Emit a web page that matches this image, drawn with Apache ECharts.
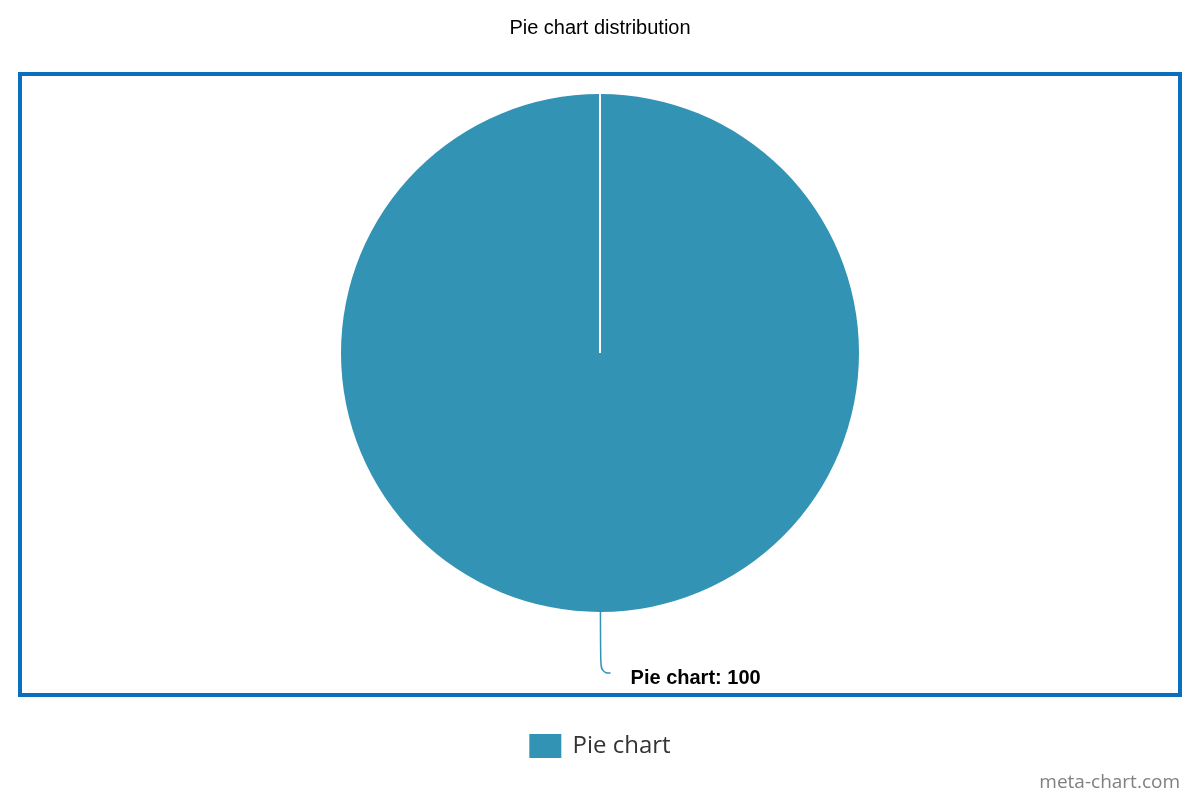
<!DOCTYPE html>
<html>
<head>
	<meta charset="utf-8">
	<title>Pie chart distribution</title>
	<script src="https://cdn.jsdelivr.net/npm/echarts@6/dist/echarts.min.js"></script>
	<style>
		body { margin: 0; background: #fff; }
	</style>
</head>
<body>
	<div id="container" style="width: 1200px;height:800px;"></div>
	<script type="text/javascript">
		var names = ['Pie chart'];
		var values = [100];
		var colors = ['#3393b4'];

		var data = [];
		for (var i = 0; i < names.length; i++) {
			data.push({ name: names[i], value: values[i], itemStyle: { color: colors[i] } });
		}

		var myChart = echarts.init(document.getElementById('container'));
		myChart.setOption({
			animation: false,
			title: {
				text: 'Pie chart distribution',
				left: 'center',
				top: 13,
				textStyle: { fontFamily: 'Liberation Sans', fontSize: 20, fontWeight: 'normal', color: '#000' }
			},
			legend: {
				bottom: 37,
				left: 'center',
				itemWidth: 32,
				itemHeight: 24,
				data: names,
				icon: 'rect',
				formatter: ' {name}',
				textStyle: { fontFamily: 'Open Sans', fontSize: 24, color: '#333' }
			},
			graphic: [
				{
					type: 'rect',
					shape: { x: 20, y: 74, width: 1160, height: 621 },
					style: { fill: 'none', stroke: '#0a70bd', lineWidth: 4 },
					z: -1
				},
				{
					type: 'line',
					shape: { x1: 600, y1: 353, x2: 600, y2: 94 },
					style: { stroke: '#fff', lineWidth: 2 },
					z: 100
				},
				{
					type: 'text',
					right: 20,
					bottom: 8,
					style: { text: 'meta-chart.com', fill: '#808080', fontFamily: 'Open Sans', fontSize: 19 }
				}
			],
			series: [
				{
					type: 'pie',
					center: [600, 353],
					radius: 259,
					startAngle: 90.1,
					data: data,
					itemStyle: { borderWidth: 0 },
					label: {
						formatter: '{t|{b}: {c}}',
						distanceToLabelLine: 20,
						rich: {
							t: {
								fontFamily: 'Liberation Sans',
								fontSize: 20,
								fontWeight: 'bold',
								color: '#000',
								padding: [10, 0, 0, 0]
							}
						}
					},
					labelLine: {
						length: 61,
						length2: 10,
						smooth: 0.5,
						lineStyle: { width: 1.5 }
					}
				}
			]
		});
	</script>
</body>
</html>
